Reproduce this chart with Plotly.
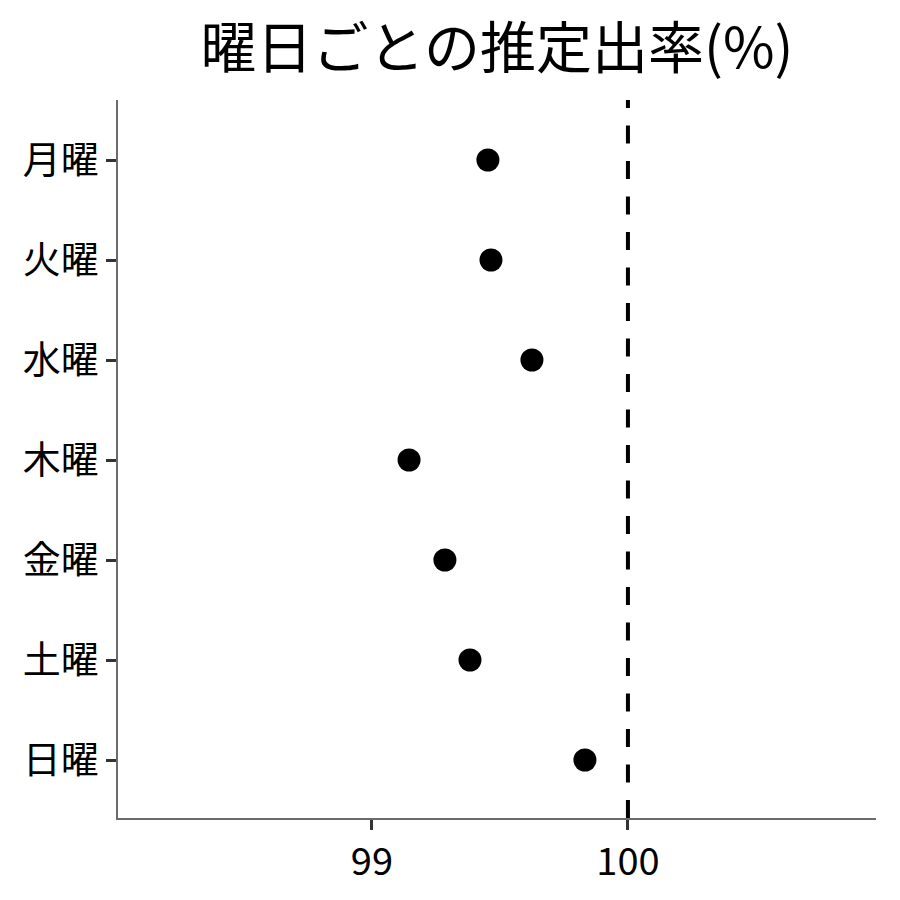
import plotly.graph_objects as go

# 曜日ごとの推定出率(%)
days = ["月曜", "火曜", "水曜", "木曜", "金曜", "土曜", "日曜"]
rates = [99.453, 99.465, 99.625, 99.145, 99.285, 99.383, 99.832]
ref_value = 100
x_ticks = [99, 100]

font_jp = "Noto Sans CJK JP"

fig = go.Figure()

fig.add_trace(go.Scatter(
    x=rates, y=days, mode="markers",
    marker=dict(color="black", size=23),
    showlegend=False,
))

# reference line at 100%
fig.add_vline(x=ref_value, line=dict(color="black", width=4, dash="18px,17.5px"))

fig.update_layout(
    width=900, height=900,
    plot_bgcolor="white", paper_bgcolor="white",
    margin=dict(l=110, r=32, t=92, b=90),
    font=dict(family=font_jp, color="black"),
    title=dict(text="曜日ごとの推定出率(%)", x=0.5, xref="paper", xanchor="center",
               y=0.955, yanchor="middle", font=dict(size=56, family=font_jp)),
)

fig.update_xaxes(
    range=[98.008, 100.969], tickvals=x_ticks, ticktext=[str(v) for v in x_ticks],
    showgrid=False, zeroline=False,
    showline=True, linecolor="#6b6b6b", linewidth=1.5,
    ticks="outside", ticklen=10, tickwidth=3, tickcolor="#333333",
    tickfont=dict(size=38, color="black"),
)
fig.update_yaxes(
    categoryorder="array", categoryarray=days, range=[6.58, -0.6],
    showgrid=False, zeroline=False,
    showline=True, linecolor="#6b6b6b", linewidth=1.5,
    ticks="outside", ticklen=10, tickwidth=3, tickcolor="#333333",
    tickfont=dict(size=38, color="black"),
)

fig.write_html("out.html")
